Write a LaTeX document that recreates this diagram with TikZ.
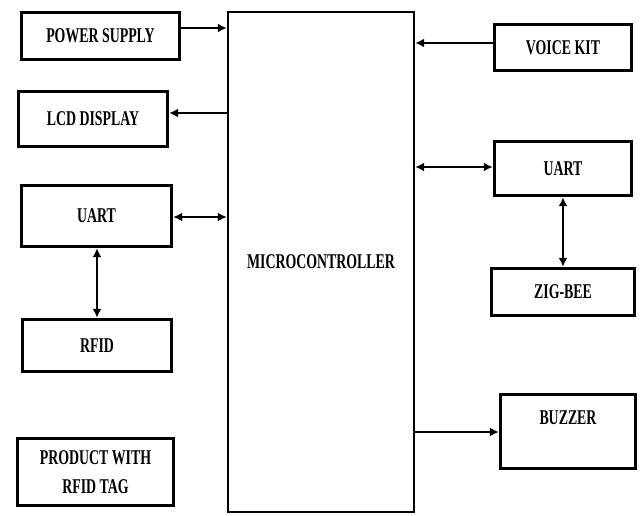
\documentclass[tikz,border=0pt]{standalone}
\usepackage{fontspec}
\setmainfont{Liberation Serif}[FakeStretch=0.66]
\usetikzlibrary{arrows.meta}
\begin{document}
\begin{tikzpicture}[x=1pt,y=-1pt,
  box/.style={draw, line width=3.4pt, rectangle, align=center, inner sep=0pt,
    font=\fontsize{21}{29}\selectfont\bfseries},
  mcbox/.style={draw, line width=2.4pt, rectangle, inner sep=0pt,
    font=\fontsize{21}{23}\selectfont\bfseries},
  conn/.style={line width=2pt, -{Latex[length=9pt,width=9pt]}},
  biconn/.style={line width=2pt, {Latex[length=9pt,width=9pt]}-{Latex[length=9pt,width=9pt]}}
]
\useasboundingbox (0,0) rectangle (641,515);
\node[mcbox, minimum width=186pt, minimum height=500pt] (mc) at (321,262) {MICROCONTROLLER};
\node[box, minimum width=158pt, minimum height=47pt] (ps) at (100.5,36) {POWER SUPPLY};
\node[box, minimum width=149pt, minimum height=55pt] (lcd) at (93,119) {LCD DISPLAY};
\node[box, minimum width=150pt, minimum height=61pt] (uartl) at (96.5,216) {UART};
\node[box, minimum width=149pt, minimum height=52pt] (rfid) at (97,345.5) {RFID};
\node[box, minimum width=156pt, minimum height=67pt] (prod) at (95.5,472) {PRODUCT WITH\\RFID TAG};
\node[box, minimum width=137pt, minimum height=46pt] (voice) at (563,47.5) {VOICE KIT};
\node[box, minimum width=137pt, minimum height=54pt] (uartr) at (563,168.5) {UART};
\node[box, minimum width=143pt, minimum height=47pt] (zig) at (563,292) {ZIG-BEE};
\node[box, minimum width=135pt, minimum height=74pt, text height=14pt, text depth=28pt] (bz) at (568,431.5) {BUZZER};
% connectors
\draw[conn] (ps.east |- 0,28) -- (mc.west |- 0,28);
\draw[conn] (mc.west |- 0,113) -- (lcd.east |- 0,113);
\draw[biconn] (uartl.east |- 0,217) -- (mc.west |- 0,217);
\draw[biconn] (uartl.south -| 97,0) -- (rfid.north -| 97,0);
\draw[conn] (voice.west |- 0,43) -- (mc.east |- 0,43);
\draw[biconn] (mc.east |- 0,167) -- (uartr.west |- 0,167);
\draw[biconn] (uartr.south) -- (zig.north);
\draw[conn] (mc.east |- 0,432) -- (bz.west |- 0,432);
\end{tikzpicture}
\end{document}
